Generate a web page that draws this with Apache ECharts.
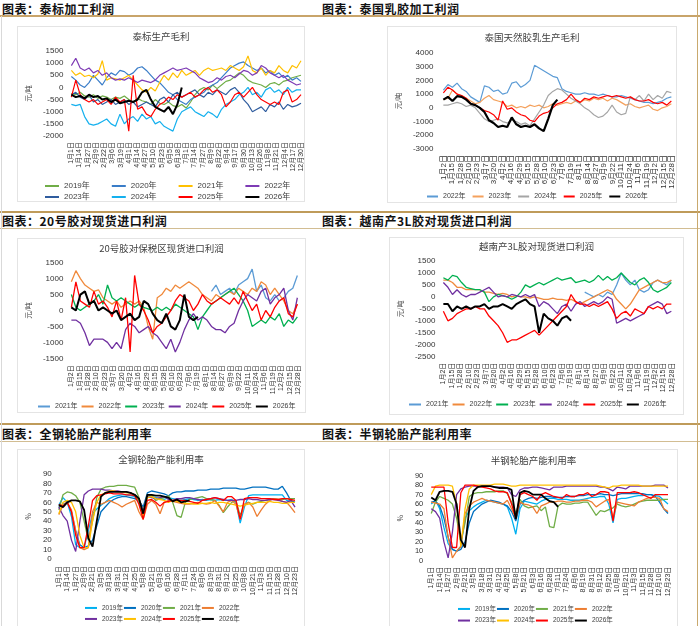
<!DOCTYPE html>
<html><head><meta charset="utf-8">
<script src="https://cdn.jsdelivr.net/npm/echarts@6.0.0/dist/echarts.min.js"></script>
<style>
html,body{margin:0;padding:0;background:#fff}
body{width:700px;height:626px;position:relative;overflow:hidden;font-family:"Noto Sans CJK SC",sans-serif}
.hdr{position:absolute;font-size:12px;font-weight:bold;color:#111;letter-spacing:0.5px;line-height:14px;white-space:nowrap}
.ln{position:absolute;left:0;width:700px}
.box{position:absolute;border:1px solid #e4e4e4;box-sizing:border-box;background:#fff}
.ch{position:absolute}
</style></head>
<body>
<div class="ln" style="top:15px;height:1.5px;background:#c8a46a"></div>
<div class="ln" style="top:211px;height:1.6px;background:#bf9b5a"></div>
<div class="ln" style="top:228px;height:1px;background:#d2bd92"></div>
<div class="ln" style="top:423px;height:1.6px;background:#bf9b5a"></div>
<div class="ln" style="top:441px;height:1px;background:#d2bd92"></div>
<div style="position:absolute;left:1px;top:16px;width:1px;height:610px;background:#d9d9d9"></div>
<div style="position:absolute;left:697px;top:0;width:1px;height:626px;background:#c9a96e"></div>

<div class="hdr" style="left:2px;top:1.5px">图表：泰标加工利润</div>
<div class="hdr" style="left:322px;top:1.5px">图表：泰国乳胶加工利润</div>
<div class="hdr" style="left:2px;top:214px">图表：20号胶对现货进口利润</div>
<div class="hdr" style="left:322px;top:214px">图表：越南产3L胶对现货进口利润</div>
<div class="hdr" style="left:2px;top:426.5px">图表：全钢轮胎产能利用率</div>
<div class="hdr" style="left:322px;top:426.5px">图表：半钢轮胎产能利用率</div>

<div class="box" style="left:17px;top:26px;width:288px;height:176px"></div>
<div class="box" style="left:387px;top:26px;width:290px;height:177px"></div>
<div class="box" style="left:17px;top:238px;width:289px;height:175px"></div>
<div class="box" style="left:389px;top:237px;width:295px;height:178px"></div>
<div class="box" style="left:17px;top:449px;width:288px;height:182px"></div>
<div class="box" style="left:389px;top:449px;width:289px;height:182px"></div>

<div id="c1" class="ch" style="left:17px;top:26px;width:288px;height:176px"></div>
<div id="c2" class="ch" style="left:387px;top:26px;width:290px;height:177px"></div>
<div id="c3" class="ch" style="left:17px;top:238px;width:289px;height:175px"></div>
<div id="c4" class="ch" style="left:389px;top:237px;width:295px;height:178px"></div>
<div id="c5" class="ch" style="left:17px;top:449px;width:288px;height:182px"></div>
<div id="c6" class="ch" style="left:389px;top:449px;width:289px;height:182px"></div>

<script>
// ---------- tick labels ----------
const P1_TICKS = ['1月1日','1月14日','1月27日','2月9日','2月22日','3月6日','3月19日','4月1日','4月14日','4月27日','5月10日','5月23日','6月5日','6月18日','7月1日','7月14日','7月27日','8月9日','8月22日','9月4日','9月17日','9月30日','10月13日','10月26日','11月8日','11月21日','12月4日','12月17日','12月30日'];
const P234_TICKS = ['1月2日','1月15日','1月28日','2月10日','2月23日','3月7日','3月20日','4月2日','4月16日','4月29日','5月15日','5月28日','6月10日','6月23日','7月6日','7月19日','8月1日','8月14日','8月27日','9月9日','9月22日','10月11日','10月24日','11月6日','11月19日','12月2日','12月15日','12月28日'];
const TIRE_TICKS = ['1月1日','1月14日','1月27日','2月9日','2月21日','3月5日','3月18日','3月31日','4月12日','4月25日','5月8日','5月21日','6月3日','6月16日','6月28日','7月11日','7月24日','8月6日','8月19日','8月31日','9月12日','9月25日','10月8日','10月21日','11月3日','11月15日','11月28日','12月10日','12月23日'];

// ---------- panel 1: 泰标生产毛利 (weekly samples) ----------
const p1y2019 = [-250,-300,-200,-350,-400,-300,-450,-350,-400,-500,-400,-450,-350,-500,-600,-450,-550,-600,-700,-500,-650,-700,-600,-750,-800,-700,-850,-600,-300,-100,0,-100,100,-50,100,250,300,450,600,500,300,200,150,100,0,150,200,100,250,300,400,450,500];
const p1y2020 = [450,300,100,0,200,500,300,100,400,600,500,700,650,500,600,800,850,700,500,300,200,0,-200,-300,-500,-600,-700,-500,-400,-300,-200,0,100,200,400,600,800,900,1000,1050,900,800,700,800,600,700,500,600,400,500,300,400,250];
const p1y2021 = [700,500,600,450,500,400,550,1100,300,400,350,300,400,500,300,100,-100,-200,0,-150,200,500,300,600,400,700,500,600,700,500,700,800,700,750,800,700,900,800,700,850,1300,700,600,800,500,700,600,900,700,600,900,800,1100];
const p1y2022 = [900,1200,800,700,800,600,700,500,600,400,300,350,300,400,300,200,300,250,200,300,500,600,700,800,700,750,800,700,600,400,300,200,250,400,300,450,500,400,550,700,650,500,600,900,800,600,500,400,500,300,200,100,150];
const p1y2023 = [-300,-200,-400,-500,-300,-600,-500,-700,-600,-500,-700,-600,-500,-700,-600,-800,-700,-600,-700,-800,-500,-400,-600,-300,-200,-400,-300,-200,-100,-300,-400,-200,-300,-100,-200,-300,-100,0,-200,-500,-700,-1000,-900,-800,-1000,-700,-800,-600,-900,-700,-800,-750,-650];
const p1y2024 = [-700,-750,-700,-1200,-1500,-1550,-1500,-1400,-1300,-1500,-1600,-1100,-1500,-1300,-1200,-1400,-1100,-1300,-1200,-1500,-1400,-1600,-1700,-1800,-1300,-1000,-900,-800,-1000,-1100,-1200,-1000,-1100,-1250,-900,-700,-600,-500,-300,-200,0,-300,-200,-400,-100,0,-200,-100,-300,0,-200,-100,-100];
const p1y2025 = [-400,300,-300,-500,-600,-500,-700,-600,-500,-700,-400,-600,-500,-1800,500,-900,-800,-1100,-1200,-900,-700,-600,-400,-500,-300,-400,-300,-200,-400,-300,-100,0,-200,-100,-300,-800,-600,-300,-200,-400,-200,0,-300,-500,-600,-700,-600,-700,-200,-100,-600,-500,-300];
const p1y2026 = [-300,-400,-350,-450,-300,-400,-350,-500,-450,-600,-500,-650,-600,-550,-600,-500,-200,-100,-500,-800,-900,-1000,-800,-1100,-700,0];

// ---------- panel 2: 泰国天然胶乳生产毛利 ----------
const p2y2022 = [1300,1700,1500,1800,1400,1200,800,600,400,1600,1500,1200,1300,1000,1100,1800,1900,1500,1700,2000,3100,2900,2700,2500,2300,2200,1400,1200,1100,1000,1000,1100,1000,1000,900,1000,900,800,800,900,800,700,600,500,400,400,300,400,500,700,800];
const p2y2023 = [600,700,1300,1000,900,700,500,300,400,700,900,600,500,400,100,200,0,100,0,200,100,200,0,100,300,200,300,400,300,500,400,600,500,700,600,700,500,700,600,400,200,300,100,0,100,200,-100,-200,0,100,300];
const p2y2024 = [200,200,300,400,300,100,200,0,-400,-800,-1000,-900,-800,-1000,-1100,-900,-1000,-1200,-1100,-1300,-800,-300,200,900,1200,1400,1300,1000,700,500,300,0,-200,-500,-700,-600,-300,200,-300,-500,-400,800,600,900,500,1000,600,900,700,1200,1100];
const p2y2025 = [1100,1500,1300,1000,900,700,300,200,0,-200,-300,-500,-900,500,-100,0,-300,-500,-600,-900,-1000,-600,-400,-300,0,300,400,600,1000,600,400,700,600,800,700,800,900,800,900,800,700,800,600,500,500,600,400,300,400,200,500];
const p2y2026 = [600,800,500,850,800,600,300,200,0,-300,-900,-1100,-1400,-1300,-1400,-700,-1200,-1400,-1300,-1400,-1200,-1500,-1700,-800,200,600];

// ---------- panel 3: 20号胶对保税区现货进口利润 ----------
const p3y2021Start = 31;
const p3y2021 = [600,800,500,600,700,500,800,900,1000,1300,600,800,400,300,500,300,400,600,700,1100];
const p3y2022 = [900,1250,1000,800,700,600,650,400,300,200,300,100,200,300,200,300,100,-500,-900,400,500,700,600,800,700,800,900,800,700,500,400,300,500,400,500,600,500,700,600,500,700,600,900,800,500,700,500,300,0,-100,200];
const p3y2023 = [500,100,0,100,200,300,500,200,800,400,300,400,300,200,100,200,100,50,0,100,0,100,0,200,100,0,-100,-200,-600,-200,0,200,300,400,500,600,700,500,300,0,-500,-400,-300,-400,-200,-300,-100,-500,-300,-400,-200];
const p3y2024 = [-300,-300,-400,-700,-1100,-900,-900,-900,-1000,-1200,-1000,-1200,-600,-400,-500,-700,-600,-500,-700,-800,-1000,-1200,-900,-1300,-1000,-600,-300,-100,-300,-200,-300,-500,-600,-600,-700,-500,-400,0,300,500,400,300,600,700,200,400,500,700,0,-300,400];
const p3y2025 = [100,900,300,200,100,600,200,300,100,-200,300,-300,400,-1300,1100,200,0,-300,-700,-500,-400,-200,0,300,500,400,300,0,200,500,300,200,300,400,300,200,400,200,600,300,0,200,-300,0,-200,100,300,400,-100,-200,200];
const p3y2026 = [100,0,500,600,200,300,0,100,0,-100,0,-300,-200,-100,-300,-200,300,200,-100,-300,-400,-100,-500,-600,-300,500,-200,-300,-200];

// ---------- panel 4: 越南产3L胶对现货进口利润 ----------
const p4y2021Start = 31;
const p4y2021 = [200,100,0,100,0,200,100,500,1000,700,500,700,300,200,300,600,700,600,500,700];
const p4y2022 = [700,700,600,400,400,300,300,300,300,200,200,150,100,150,100,0,50,0,0,-50,0,-50,-100,-100,-50,-100,-100,-150,-100,-200,-300,-200,-100,0,100,200,300,200,-100,-300,-500,-300,0,300,400,500,600,700,600,600,700];
const p4y2023 = [800,700,900,850,600,400,350,300,300,200,-200,0,100,50,0,-100,0,200,500,400,500,600,500,600,700,800,700,750,800,600,650,700,600,700,900,700,850,700,800,1000,800,600,500,700,800,600,300,200,300,400,600];
const p4y2024 = [600,400,100,300,100,0,100,100,200,300,400,200,0,50,0,100,50,0,100,0,100,-400,-200,-300,-500,-700,-400,-300,-600,-300,-200,-400,-300,-200,-300,-200,0,-100,-1100,-1000,-900,-1000,-900,-800,-700,-400,-300,-200,-300,-700,-600];
const p4y2025 = [-600,-1000,-900,-700,-600,-500,-500,-400,-500,-500,-800,-1000,-1200,-1500,-1900,-1800,-1800,-1700,-1600,-1500,-1400,-1600,-1400,-1200,-1000,-800,-600,-400,100,-200,-300,-300,-400,-300,-400,-300,-200,-500,-900,-700,-600,-800,-500,-600,-700,-400,-500,-400,-500,-300,-300];
const p4y2026 = [-300,-300,-600,-400,-500,-400,-500,-400,-400,-300,-500,-400,-400,-300,-400,-500,-300,-200,-100,-300,-400,-1500,-700,-900,-1000,-1200,-900,-800,-1000];

// ---------- panel 5: 全钢轮胎产能利用率 (half-label steps) ----------
const p5y2019 = [57,65,60,45,15,12,12,30,48,53,57,60,64,66,67,68,68,67,66,60,45,65,66,65,64,63,65,64,63,64,63,64,63,62,63,62,63,62,63,62,62,63,60,38,55,67,68,68,68,68,68,68,68,68,62,61,60];
const p5y2020 = [55,58,60,50,30,15,12,14,20,35,50,55,60,63,65,66,66,65,64,62,55,70,72,71,70,69,67,70,71,71,72,72,72,73,73,73,74,74,74,75,75,75,75,74,74,75,76,76,76,76,75,74,74,77,70,62,60];
const p5y2021 = [52,68,71,70,67,60,40,20,40,65,74,76,77,77,78,78,78,77,76,65,50,68,67,62,64,65,67,60,46,44,60,63,64,65,66,64,63,62,57,49,55,60,62,46,58,60,58,60,61,62,63,64,63,63,64,64,64];
const p5y2022 = [47,57,60,52,30,12,10,12,50,60,58,60,62,60,58,55,58,60,62,50,42,58,62,58,48,60,62,61,60,59,58,58,59,60,59,58,59,62,56,50,60,62,58,42,58,60,55,45,52,58,62,64,63,61,60,55,49];
const p5y2023 = [55,46,40,20,8,40,68,72,74,74,74,73,73,72,72,71,71,70,68,64,50,66,65,64,65,66,63,62,64,64,65,65,64,63,62,63,64,65,64,63,62,62,62,63,63,64,63,63,62,62,63,63,62,61,60,62,55];
const p5y2024 = [48,60,62,60,50,25,12,12,40,60,68,70,72,72,71,71,70,70,68,62,45,65,66,64,63,62,60,62,61,60,59,59,58,58,59,59,60,59,60,60,59,58,57,56,57,58,59,60,60,60,61,60,60,59,59,60,60];
const p5y2025 = [58,56,60,50,25,12,12,35,62,67,68,69,70,69,69,69,68,68,67,58,42,62,63,60,56,60,61,62,62,62,62,61,60,59,62,63,64,65,64,62,66,66,62,42,64,65,65,65,64,64,64,63,63,64,64,63,62];
const p5y2026 = [57,55,60,62,62,61,52,22,13,40,66,70,71,71,71,71,71,70,68,64,48,68,68,67,67,66,65,61,63,60,61,62];

// ---------- panel 6: 半钢轮胎产能利用率 ----------
const p6y2019 = [60,64,55,35,18,12,10,15,45,53,57,60,62,64,63,62,61,60,57,45,28,55,63,62,61,60,63,65,66,66,65,65,65,64,64,64,65,66,67,67,68,68,60,40,65,66,66,67,68,69,69,70,70,69,68,64,60];
const p6y2020 = [62,63,58,45,25,12,10,12,20,40,52,56,60,62,64,63,62,60,58,52,42,60,64,66,67,66,67,68,68,67,67,67,68,68,68,69,69,70,70,70,71,70,70,69,70,71,71,71,71,71,71,70,70,68,62,55,50];
const p6y2021 = [50,62,68,66,64,60,45,20,40,68,71,72,72,73,73,73,74,74,71,62,50,65,58,56,57,58,53,57,36,35,58,61,60,60,61,61,62,62,55,48,53,52,54,56,60,58,57,58,60,62,63,64,64,64,64,65,65];
const p6y2022 = [62,61,60,55,25,3,10,15,50,58,62,64,66,64,63,62,61,60,64,55,45,62,60,59,57,50,58,60,62,62,63,63,62,62,63,63,64,64,62,57,60,63,65,45,62,61,60,59,58,62,64,66,67,67,66,55,52];
const p6y2023 = [55,52,45,20,3,30,70,76,78,79,79,79,79,79,79,78,78,78,77,70,68,75,77,77,78,78,77,76,75,78,78,78,79,79,79,79,79,79,79,79,78,78,76,74,78,77,76,79,79,79,79,79,79,80,80,80,77];
const p6y2024 = [70,79,80,80,80,79,60,15,55,76,80,80,80,80,80,81,81,81,80,79,79,80,80,80,80,80,80,80,80,80,80,80,80,80,80,80,80,80,80,80,79,78,77,79,79,80,80,80,80,80,79,79,79,79,79,79,79];
const p6y2025 = [78,78,78,78,40,14,14,72,80,80,80,79,78,77,76,74,73,73,72,60,45,70,72,70,68,64,70,72,70,68,67,66,70,68,68,70,70,72,68,70,73,73,72,42,72,72,72,72,73,72,70,68,66,70,70,70,70];
const p6y2026 = [67,64,73,74,74,73,60,22,14,55,74,78,79,79,79,78,77,77,77,75,44,72,74,73,70,70,70,66,63,62,57];

// ---------- builders ----------
const FONT = '"Liberation Sans", Arial, "Noto Sans CJK SC", sans-serif';
const CJK = '"Noto Sans CJK SC", sans-serif';
const LABEL = '#404040';

function pairs(vals, step, start) {
  start = start || 0;
  return vals.map(function (v, i) { return [(start + i) * step, v]; });
}
function ln(name, color, vals, step, start, width) {
  return {
    name: name, type: 'line', symbol: 'none', showSymbol: false,
    data: pairs(vals, step, start),
    lineStyle: { color: color, width: width },
    itemStyle: { color: color },
    emphasis: { disabled: true }
  };
}
function legendRow(names, left, top, iw, gap, fs, thick) {
  return {
    data: names.map(function (n) { return { name: n, itemStyle: { borderWidth: 0 } }; }),
    left: left, top: top, orient: 'horizontal', icon: 'rect',
    itemWidth: iw, itemHeight: 2, itemGap: gap, padding: 0,
    textStyle: { fontSize: fs, color: LABEL, fontFamily: FONT },
    selectedMode: false
  };
}
function build(id, c) {
  const chart = echarts.init(document.getElementById(id), null, { renderer: 'canvas' });
  chart.setOption({
    animation: false,
    textStyle: { fontFamily: FONT },
    title: {
      text: c.title, left: 'center', top: c.titleTop, padding: 0,
      textStyle: { fontSize: 9.5, fontWeight: 'normal', color: '#404040', fontFamily: CJK }
    },
    grid: { left: c.grid[0], top: c.grid[1], width: c.grid[2], height: c.grid[3], containLabel: false },
    xAxis: {
      type: 'value', min: 0, max: c.xmax, interval: c.xint,
      axisLine: { show: false }, axisTick: { show: false }, splitLine: { show: false },
      axisLabel: {
        rotate: 90, fontSize: c.xfs, color: '#333', margin: c.xmargin,
        showMinLabel: true, showMaxLabel: true,
        formatter: function (v) { const k = Math.round(v / c.xint); return c.ticks[k] || ''; }
      }
    },
    yAxis: {
      type: 'value', min: c.ymin, max: c.ymax, interval: c.yint,
      name: c.yname, nameLocation: 'middle', nameRotate: 90, nameGap: c.ynameGap,
      nameTextStyle: { fontSize: 7, color: LABEL, fontFamily: CJK },
      axisLine: { show: false }, axisTick: { show: false }, splitLine: { show: false },
      axisLabel: { fontSize: c.yfs, color: '#333', margin: c.ymargin, formatter: function (v) { return String(v); } }
    },
    legend: c.legends,
    series: c.series
  });
}

// panel 1
build('c1', {
  title: '泰标生产毛利', titleTop: 6,
  grid: [48, 25, 236, 85], xmax: 364, xint: 13, ticks: P1_TICKS, xfs: 7, xmargin: 6,
  ymin: -2000, ymax: 1500, yint: 500, yfs: 8, ymargin: 8, yname: '元/吨', ynameGap: 29,
  legends: [
    legendRow(['2019年','2020年','2021年','2022年'], 28, 156, 14, 22, 8),
    legendRow(['2023年','2024年','2025年','2026年'], 28, 167, 14, 22, 8)
  ],
  series: [
    ln('2019年', '#70AD47', p1y2019, 7, 0, 1.2),
    ln('2020年', '#3A7DC8', p1y2020, 7, 0, 1.2),
    ln('2021年', '#FFC000', p1y2021, 7, 0, 1.2),
    ln('2022年', '#7E3BB5', p1y2022, 7, 0, 1.2),
    ln('2023年', '#2F5C9E', p1y2023, 7, 0, 1.2),
    ln('2024年', '#14B0EE', p1y2024, 7, 0, 1.2),
    ln('2025年', '#FF0000', p1y2025, 7, 0, 1.2),
    ln('2026年', '#000000', p1y2026, 7, 0, 2)
  ]
});

// panel 2
build('c2', {
  title: '泰国天然胶乳生产毛利', titleTop: 7,
  grid: [49, 27, 236, 96], xmax: 351, xint: 13, ticks: P234_TICKS, xfs: 8, xmargin: 6,
  ymin: -3000, ymax: 4000, yint: 1000, yfs: 8, ymargin: 10, yname: '元/吨', ynameGap: 34,
  legends: [legendRow(['2022年','2023年','2024年','2025年','2026年'], 40, 167, 11, 7, 7)],
  series: [
    ln('2022年', '#5B9BD5', p2y2022, 7, 0, 1.2),
    ln('2023年', '#F4A15D', p2y2023, 7, 0, 1.2),
    ln('2024年', '#A5A5A5', p2y2024, 7, 0, 1.2),
    ln('2025年', '#FF0000', p2y2025, 7, 0, 1.2),
    ln('2026年', '#000000', p2y2026, 7, 0, 2.2)
  ]
});

// panel 3
build('c3', {
  title: '20号胶对保税区现货进口利润', titleTop: 6,
  grid: [48, 24.7, 233, 95.6], xmax: 351, xint: 13, ticks: P234_TICKS, xfs: 7, xmargin: 7,
  ymin: -1500, ymax: 1500, yint: 500, yfs: 8, ymargin: 8, yname: '元/吨', ynameGap: 31,
  legends: [legendRow(['2021年','2022年','2023年','2024年','2025年','2026年'], 21, 165, 12, 4, 7)],
  series: [
    ln('2021年', '#5B9BD5', p3y2021, 7, p3y2021Start, 1.3),
    ln('2022年', '#F08A3C', p3y2022, 7, 0, 1.3),
    ln('2023年', '#00B050', p3y2023, 7, 0, 1.3),
    ln('2024年', '#7030A0', p3y2024, 7, 0, 1.3),
    ln('2025年', '#FF0000', p3y2025, 7, 0, 1.3),
    ln('2026年', '#000000', p3y2026, 7, 0, 2)
  ]
});

// panel 4
build('c4', {
  title: '越南产3L胶对现货进口利润', titleTop: 5,
  grid: [48, 24, 235, 95.7], xmax: 351, xint: 13, ticks: P234_TICKS, xfs: 7, xmargin: 6,
  ymin: -2500, ymax: 1500, yint: 500, yfs: 8, ymargin: 8, yname: '元/吨', ynameGap: 34,
  legends: [legendRow(['2021年','2022年','2023年','2024年','2025年','2026年'], 20, 164, 12, 4, 7)],
  series: [
    ln('2021年', '#5B9BD5', p4y2021, 7, p4y2021Start, 1.3),
    ln('2022年', '#F08A3C', p4y2022, 7, 0, 1.3),
    ln('2023年', '#00B050', p4y2023, 7, 0, 1.3),
    ln('2024年', '#7030A0', p4y2024, 7, 0, 1.3),
    ln('2025年', '#FF0000', p4y2025, 7, 0, 1.3),
    ln('2026年', '#000000', p4y2026, 7, 0, 2)
  ]
});

// panel 5
build('c5', {
  title: '全钢轮胎产能利用率', titleTop: 6,
  grid: [34, 25, 244, 85], xmax: 28, xint: 1, ticks: TIRE_TICKS, xfs: 7, xmargin: 7,
  ymin: 0, ymax: 90, yint: 10, yfs: 8, ymargin: 7, yname: '%', ynameGap: 18,
  legends: [
    legendRow(['2019年','2020年','2021年','2022年'], 68, 155.7, 12, 1, 6.5),
    legendRow(['2023年','2024年','2025年','2026年'], 68, 166.7, 12, 1, 6.5)
  ],
  series: [
    ln('2019年', '#00B0F0', p5y2019, 0.5, 0, 1.3),
    ln('2020年', '#0070C0', p5y2020, 0.5, 0, 1.3),
    ln('2021年', '#70AD47', p5y2021, 0.5, 0, 1.3),
    ln('2022年', '#ED7D31', p5y2022, 0.5, 0, 1.3),
    ln('2023年', '#7030A0', p5y2023, 0.5, 0, 1.3),
    ln('2024年', '#FFC000', p5y2024, 0.5, 0, 1.3),
    ln('2025年', '#FF0000', p5y2025, 0.5, 0, 1.3),
    ln('2026年', '#000000', p5y2026, 0.5, 0, 1.8)
  ]
});

// panel 6
build('c6', {
  title: '半钢轮胎产能利用率', titleTop: 7,
  grid: [35, 26.7, 244, 85], xmax: 28, xint: 1, ticks: TIRE_TICKS, xfs: 7, xmargin: 6,
  ymin: 0, ymax: 90, yint: 10, yfs: 7.5, ymargin: 8, yname: '%', ynameGap: 20,
  legends: [
    legendRow(['2019年','2020年','2021年','2022年'], 69, 156.7, 12, 1, 6.5),
    legendRow(['2023年','2024年','2025年','2026年'], 69, 168.3, 12, 1, 6.5)
  ],
  series: [
    ln('2019年', '#00B0F0', p6y2019, 0.5, 0, 1.3),
    ln('2020年', '#0070C0', p6y2020, 0.5, 0, 1.3),
    ln('2021年', '#70AD47', p6y2021, 0.5, 0, 1.3),
    ln('2022年', '#ED7D31', p6y2022, 0.5, 0, 1.3),
    ln('2023年', '#7030A0', p6y2023, 0.5, 0, 1.3),
    ln('2024年', '#FFC000', p6y2024, 0.5, 0, 1.3),
    ln('2025年', '#FF0000', p6y2025, 0.5, 0, 1.3),
    ln('2026年', '#000000', p6y2026, 0.5, 0, 1.8)
  ]
});
</script>
</body></html>
